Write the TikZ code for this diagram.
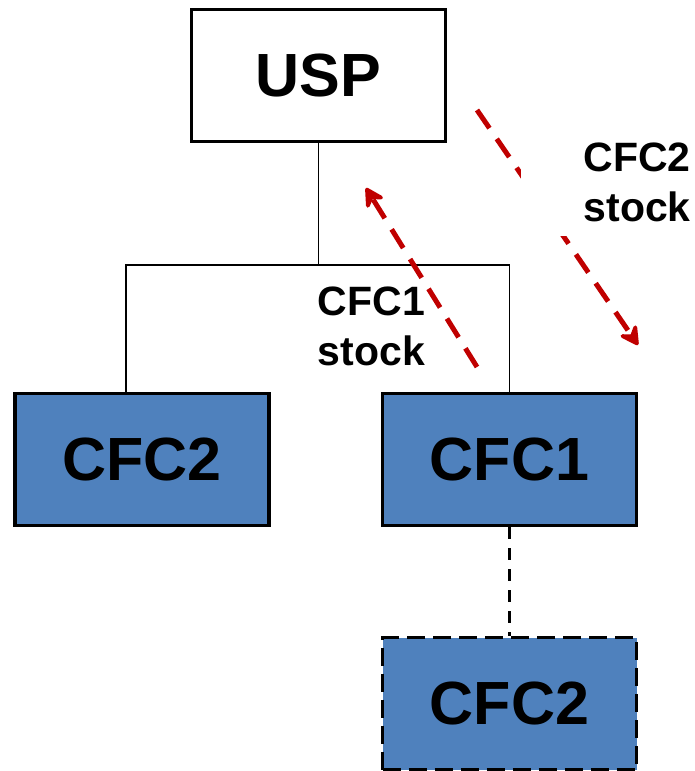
\documentclass[tikz,border=0pt]{standalone}
\usepackage{fontspec}
\setmainfont{Liberation Sans}
\usetikzlibrary{arrows.meta,positioning}
\definecolor{cfcBlue}{RGB}{79,129,189}
\definecolor{stockRed}{RGB}{192,0,0}

\begin{document}
\begin{tikzpicture}[x=1pt, y=-1pt,
  every node/.style={font=\bfseries},
  unit/.style={draw, line width=3.5pt, minimum width=254pt, minimum height=132pt,
               font=\fontsize{61}{61}\selectfont\bfseries},
  cfc/.style={unit, fill=cfcBlue},
  spare/.style={cfc, dash pattern=on 18pt off 8pt},
  tree/.style={line width=1.6pt},
  link/.style={line width=2.5pt, dash pattern=on 12pt off 9pt},
  flow/.style={draw=stockRed, line width=5pt, dash pattern=on 22pt off 13pt,
               -{Stealth[length=24pt,width=26pt,inset=9pt,round]}},
  stock/.style={font=\fontsize{41}{50}\selectfont\bfseries},
]
\useasboundingbox (0,0) rectangle (694,771);

% Boxes
\node[unit] (usp) at (318.5,75.5) {USP};
\node[cfc] (left2) at (142,459.5) {CFC2};
\node[cfc] (cfc1) at (509.5,459.5) {CFC1};
\node[spare] (backup2) at (509.5,703.5) {CFC2};

% Tree
\coordinate (fork) at (318.5,265);
\draw[tree] (usp) -- (fork);
\draw[tree] ([xshift=-16pt]left2.north) |- (fork) -| (cfc1);
\draw[link] (cfc1) -- (backup2);

% Stock flows
\coordinate (up1) at (477,367);
\coordinate (up2) at (366,188);
\coordinate (down1) at (477,110);
\coordinate (down2) at (638,345);
\draw[flow] (up1) -- (up2);
\draw[flow] (down1) -- (down2);

% Labels
\node[stock, align=left] (stock1) at (371.5,326) {CFC1\\stock};
\node[stock, text width=170pt, align=right, fill=white, inner xsep=0pt,
      inner ysep=14pt, anchor=east] (stock2) at (691,182) {CFC2\\stock};

\end{tikzpicture}
\end{document}
